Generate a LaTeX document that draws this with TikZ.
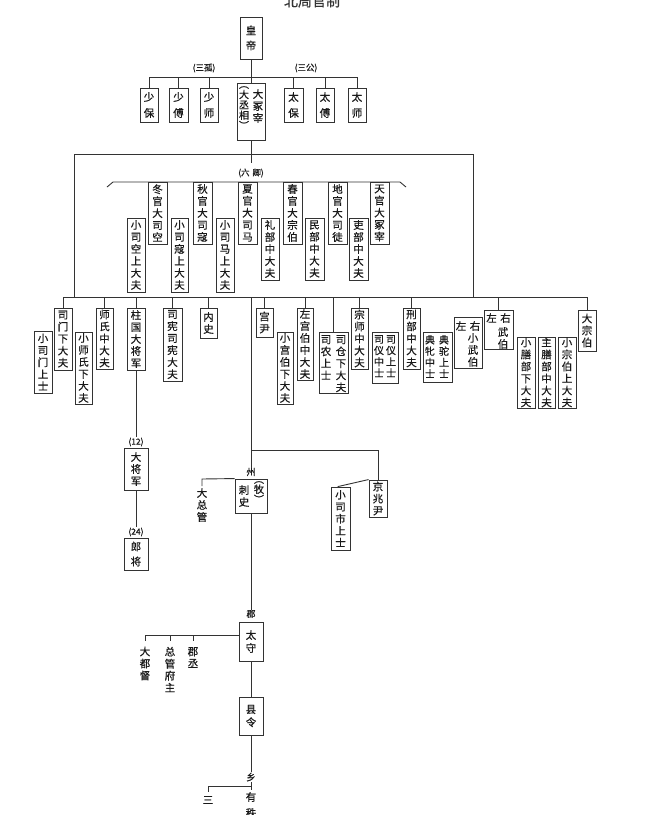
\documentclass[tikz,border=0pt]{standalone}
\usepackage{fontspec}
\newfontfamily\cjk[FakeBold=0.6]{Noto Sans CJK SC}
\newcommand\bx[6]{%
  \pgfmathsetmacro\bxw{#4-#2}%
  \pgfmathsetmacro\bxh{#5-#3}%
  \node[vb, minimum width=\bxw pt, minimum height=\bxh pt] (#1) at ({(#2+#4)/2},{(#3+#5)/2}) {#6};}
\begin{document}
\begin{tikzpicture}[x=1pt,y=-1pt,
  ln/.style={draw=black!80, line width=0.9pt},
  vb/.style={draw=black!80, line width=0.9pt, inner sep=0pt, align=center, text=black!90, font=\cjk\fontsize{10.5}{12}\selectfont},
  vt/.style={inner sep=0pt, align=center, text=black!90, font=\cjk\fontsize{10.5}{12}\selectfont},
  vt4/.style={vt, font=\cjk\fontsize{10}{11.3}\selectfont},
  lab/.style={inner sep=0pt, text=black!90, font=\cjk\fontsize{8.5}{9}\selectfont}]
\path[use as bounding box, fill=white] (0,0) rectangle (650,815);
% title (cut at top edge)
\node[inner sep=0pt, text=black!80, font=\cjk\fontsize{14}{14}\selectfont] (title) at (312,1) {北周官制};
% top
\bx{emp}{240}{17}{262}{59}{皇\\[3pt]帝}
\bx{sb}{140}{88}{158}{122}{少\\[4pt]保}
\bx{sf}{169}{88}{188}{122}{少\\[4pt]傅}
\bx{ss}{200}{88}{218}{122}{少\\[4pt]师}
\bx{dzz}{237}{83}{265}{140}{}
\node[vt, anchor=north] (dzzr) at (258,89) {大\\冢\\宰};
\node[vt, anchor=north, font=\cjk\fontsize{10}{10.3}\selectfont] (dzzl) at (244,86) {︵\\大\\丞\\相\\︶};
\bx{tb}{284}{88}{303}{122}{太\\[4pt]保}
\bx{tf}{316}{88}{334}{122}{太\\[4pt]傅}
\bx{ts}{348}{88}{366}{122}{太\\[4pt]师}
\coordinate (barA) at (0,77);
\draw[ln] (sb.north |- barA) -- (ts.north |- barA);
\foreach \n in {sb,sf,ss,tb,tf,ts} \draw[ln] (\n.north) -- (\n.north |- barA);
\draw[ln] (emp.south) -- (dzz.north);
\node[lab] (sangu) at (204,68) {(三孤)};
\node[lab] (sangong) at (306,68) {(三公)};
% frame
\coordinate (bar2) at (0,297);
\coordinate (fl) at (74,154);
\coordinate (fr) at (473,154);
\draw[ln] (fl |- bar2) -- (fl) -- (fr) -- (fr |- bar2);
\coordinate (lq) at (251,163);
\draw[ln] (dzz.south) -- (lq);
\node[lab] (liuqing) at (251,173) {(六\,\,卿)};
\coordinate (brl) at (107,187);
\coordinate (brr) at (406,187);
\draw[ln] (brl) -- ++(6,-5) -- (400,182) -- (brr);
% six ministers
\bx{dgs}{148}{182}{167}{244}{冬\\官\\大\\司\\空}
\bx{xsk}{127}{218}{145}{292}{小\\司\\空\\上\\大\\夫}
\bx{qgs}{193}{182}{212}{244}{秋\\官\\大\\司\\寇}
\bx{xsko}{171}{218}{188}{292}{小\\司\\寇\\上\\大\\夫}
\bx{xgs}{238}{182}{257}{244}{夏\\官\\大\\司\\马}
\bx{xsm}{216}{218}{234}{292}{小\\司\\马\\上\\大\\夫}
\bx{cgs}{283}{182}{302}{244}{春\\官\\大\\宗\\伯}
\bx{lb}{261}{218}{279}{280}{礼\\部\\中\\大\\夫}
\bx{dg}{328}{182}{347}{244}{地\\官\\大\\司\\徒}
\bx{mb}{305}{218}{324}{280}{民\\部\\中\\大\\夫}
\bx{tg}{370}{182}{389}{244}{天\\官\\大\\冢\\宰}
\bx{lib}{349}{218}{368}{280}{吏\\部\\中\\大\\夫}
% lower row
\bx{smx}{54}{308}{72}{370}{司\\门\\下\\大\\夫}
\bx{xsmu}{34}{331}{52}{393}{小\\司\\门\\上\\士}
\bx{xss}{75}{332}{92}{404}{小\\师\\氏\\下\\大\\夫}
\bx{ssz}{96}{308}{113}{369}{师\\氏\\中\\大\\夫}
\bx{zg}{127}{308}{145}{370}{柱\\国\\大\\将\\军}
\bx{sx}{163}{308}{182}{381}{司\\宪\\司\\宪\\大\\夫}
\bx{ns}{200}{308}{217}{338}{内\\史}
\bx{gy}{256}{308}{273}{337}{宫\\尹}
\bx{xgb}{277}{332}{293}{404}{小\\宫\\伯\\下\\大\\夫}
\bx{zgb}{297}{308}{313}{380}{左\\宫\\伯\\中\\大\\夫}
\bx{sc}{319}{332}{348}{393}{}
\node[vt, anchor=north] (scr) at (341,335) {司\\仓\\下\\大\\夫};
\node[vt, anchor=north] (scl) at (326,335) {司\\农\\上\\士};
\bx{zs}{351}{308}{368}{369}{宗\\师\\中\\大\\夫}
\bx{sy}{372}{332}{398}{383}{}
\node[vt4, anchor=north] (syr) at (391,335) {司\\仪\\上\\士};
\node[vt4, anchor=north] (syl) at (379,335) {司\\仪\\中\\士};
\bx{xb}{403}{308}{420}{369}{刑\\部\\中\\大\\夫}
\bx{dt}{423}{332}{452}{382}{}
\node[vt4, anchor=north] (dtr) at (444,335) {典\\驼\\上\\士};
\node[vt4, anchor=north] (dtl) at (430,335) {典\\牝\\中\\士};
\bx{zyxwb}{454}{317}{482}{368}{}
\node[vt, anchor=north] (zyxwbt) at (468,321) {左\,\,右};
\node[vt, anchor=north] (zyxwbc) at (473,333) {小\\武\\伯};
\bx{zywb}{484}{310}{513}{349}{}
\node[vt, anchor=north] (zywbt) at (498.5,313) {左\,\,右};
\node[vt, anchor=north] (zywbc) at (503,327) {武\\伯};
\bx{xsb}{517}{337}{535}{408}{小\\膳\\部\\下\\大\\夫}
\bx{zsb}{538}{337}{555}{408}{主\\膳\\部\\中\\大\\夫}
\bx{xzb}{558}{337}{576}{408}{小\\宗\\伯\\上\\大\\夫}
\bx{dzb}{578}{310}{596}{351}{大\\宗\\伯}
\draw[ln] (smx.north |- bar2) -- (dzb.north |- bar2);
\foreach \n in {smx,ssz,zg,sx,ns,gy,zgb,sc,zs,xb,zywb,dzb} \draw[ln] (\n.north) -- (\n.north |- bar2);
% generals
\node[lab] (n12) at (136,442) {(12)};
\bx{djj}{124}{448}{148}{490}{大\\将\\军}
\node[lab] (n24) at (136,532) {(24)};
\bx{lj}{124}{538}{148}{570}{郎\\[3pt]将}
\draw[ln] (zg.south) -- (zg.south |- n12.north);
\draw[ln] (djj.south) -- (djj.south |- n24.north);
% zhou
\coordinate (t2) at (251,297);
\coordinate (j1) at (251,450);
\node[lab, font=\cjk\fontsize{9}{9}\selectfont] (zl) at (251,472) {州};
\bx{zcs}{235}{479}{267}{513}{}
\node[vt, anchor=north] (zcsl) at (244,485) {刺\\史};
\node[vt, anchor=north, font=\cjk\fontsize{10}{10}\selectfont] (zcsr) at (259,481) {︵\\牧\\︶};
\bx{jzy}{369}{480}{387}{517}{京\\兆\\尹}
\bx{xssh}{331}{487}{350}{550}{小\\司\\市\\上\\士}
\draw[ln] (t2) -- (zl.north);
\draw[ln] (j1) -| (jzy.north);
\coordinate (dzgt) at (202,479);
\draw[ln] (zcs.north west) -- (dzgt) -- ++(0,7);
\node[vt] (dzg) at (202,505) {大\\总\\管};
\draw[ln] (jzy.north west) -- (xssh.north -| 338,0) -- (338,487);
% jun
\node[lab, font=\cjk\fontsize{9}{9}\selectfont] (jl) at (251,614) {郡};
\bx{jts}{239}{622}{263}{661}{太\\[1pt]守}
\draw[ln] (zcs.south) -- (jl.north);
\coordinate (jh) at (145,635);
\draw[ln] (jts.west |- 0,635) -- (jh) -- ++(0,6);
\draw[ln] (170,635) -- (170,641);
\draw[ln] (193,635) -- (193,641);
\node[vt] (ddd) at (145,663.5) {大\\都\\督};
\node[vt] (zgfz) at (170,669.5) {总\\管\\府\\主};
\node[vt] (jc) at (193,657.5) {郡\\丞};
\bx{xl}{239}{697}{263}{735}{县\\[1pt]令}
\draw[ln] (jts.south) -- (xl.north);
% xiang
\node[vt, font=\cjk\fontsize{9.5}{9.5}\selectfont] (xiang) at (251,777) {乡};
\draw[ln] (xl.south) -- (xiang.north);
\coordinate (xh) at (208,786);
\draw[ln] (251,782) -- (251,790);
\draw[ln] (251,786) -- (xh) -- ++(0,6);
\node[vt] (san) at (208,800) {三};
\node[vt] (you) at (251,797) {有};
\node[vt] (zhi) at (251,813) {秩};
\end{tikzpicture}
\end{document}
